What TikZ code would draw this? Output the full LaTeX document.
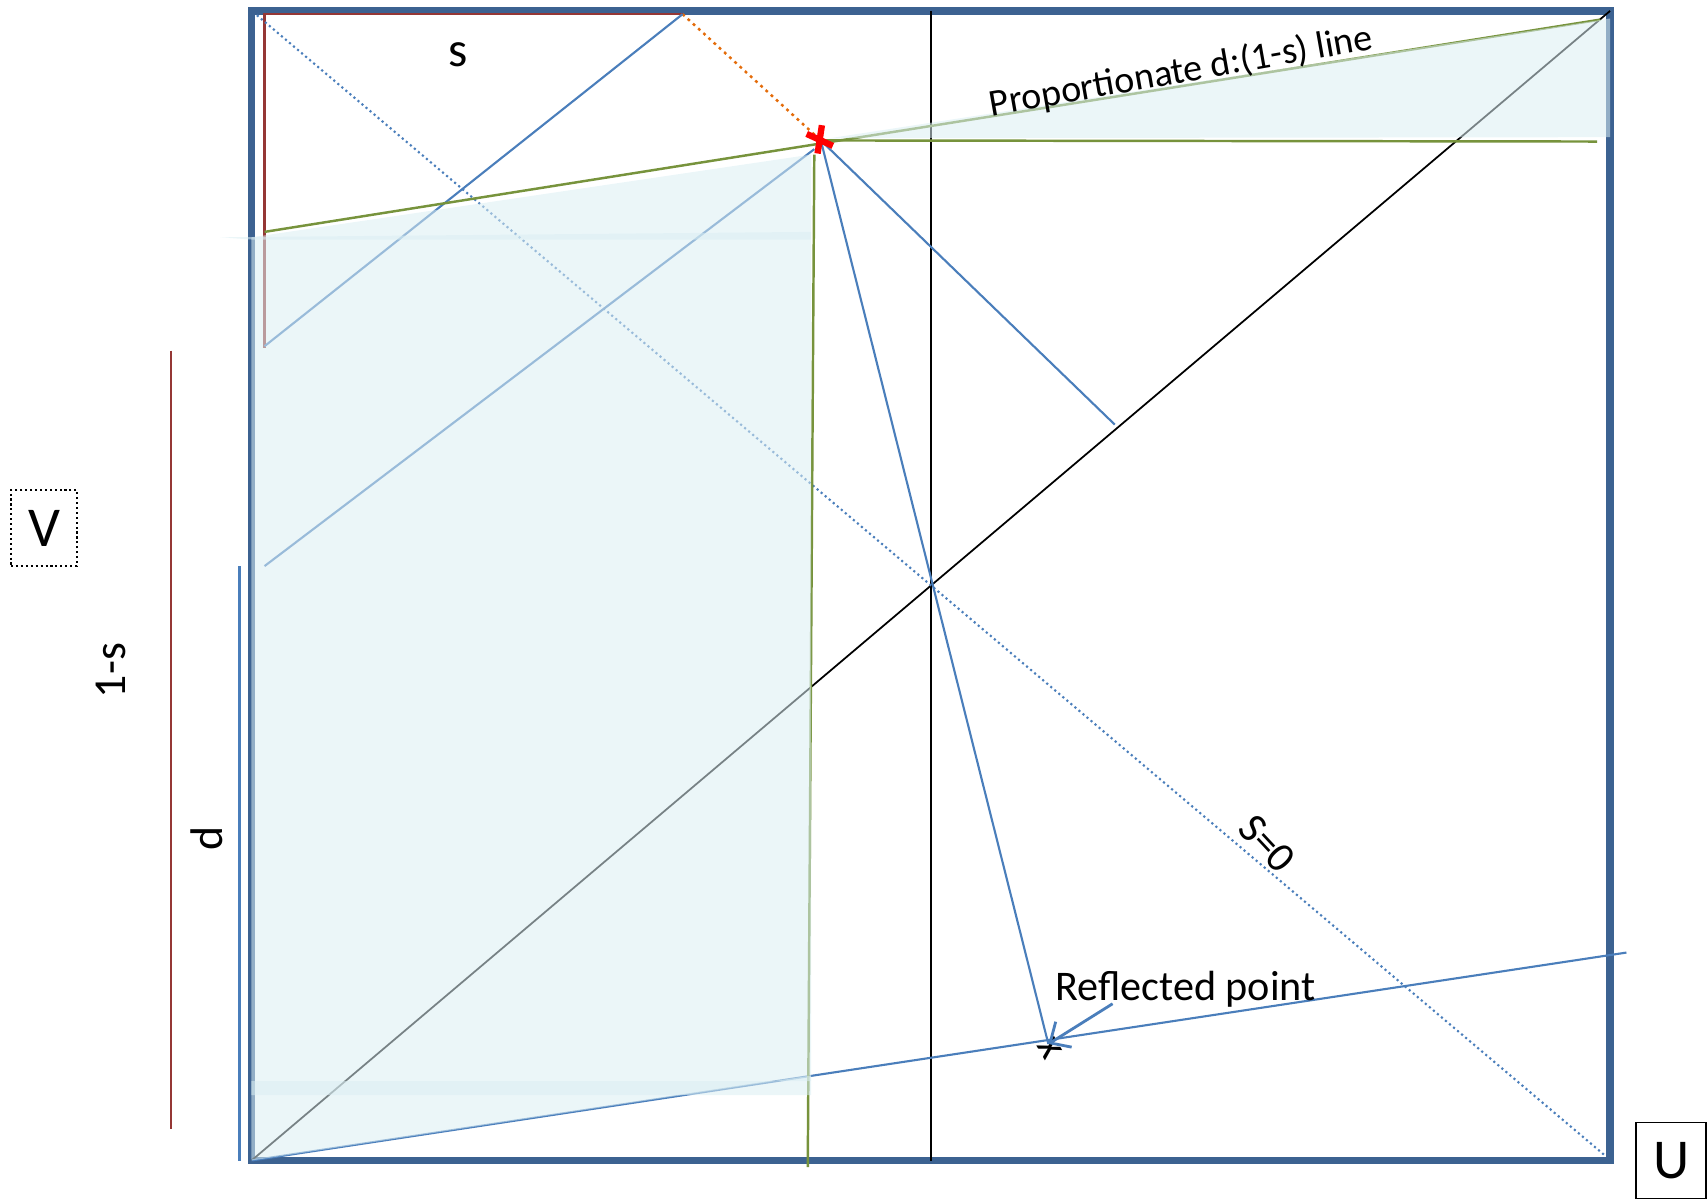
\documentclass[tikz,border=0pt]{standalone}
\usepackage{fontspec}
\setmainfont{Carlito}
\usetikzlibrary{arrows.meta}
\definecolor{framecol}{RGB}{60,98,145}
\definecolor{linecol}{RGB}{74,126,187}
\definecolor{greencol}{RGB}{119,147,60}
\definecolor{redcol}{RGB}{149,55,53}
\definecolor{orangecol}{RGB}{228,108,10}
\definecolor{tintcol}{RGB}{218,238,243}
\tikzset{
  frameline/.style={draw=framecol,line width=2.2pt},
  blueline/.style={draw=linecol,line width=0.6pt},
  greenline/.style={draw=greencol,line width=0.7pt},
  redline/.style={draw=redcol,line width=0.6pt},
  tint/.style={fill=tintcol,fill opacity=0.55,draw=none},
  txt/.style={font=\fontsize{12}{14}\selectfont,inner sep=0pt}
}
\begin{document}
\begin{tikzpicture}[x=0.010887cm,y=-0.010887cm]
  \useasboundingbox (0,0) rectangle (1568,1102);
  \coordinate (bl) at (231,1066);
  \coordinate (tr) at (1479,10);
  \coordinate (sa) at (236,14);
  \coordinate (sb) at (1475,1062);
  \coordinate (star) at (754,129);
  \coordinate (refl) at (963,959);
  \coordinate (rtop) at (627,13);
  \coordinate (rbot) at (243,320);
  \coordinate (arrowtail) at (1022,922);

  \draw[frameline] (bl) rectangle (tr);
  \draw[redline] (rtop) -- (243,13) -- (rbot);
  \draw[redline] (157,322) -- (157,1037);
  \draw[blueline] (220,520) -- (220,1066);
  \draw[black,line width=0.5pt] (855,10) -- (855,1066);
  \draw[black,line width=0.5pt] (bl) -- (tr);
  \draw[linecol,line width=0.6pt,dash pattern=on 0.6pt off 0.9pt] (sa) -- (sb);
  \draw[orangecol,line width=0.7pt,dash pattern=on 0.8pt off 1.2pt] (rtop) -- (star);
  \draw[blueline] (243,318) -- (rtop);
  \draw[blueline] (243,520) -- (748,137);
  \draw[blueline] (star) -- (1024,390);
  \draw[blueline] (star) -- (refl);
  \draw[blueline] (bl) -- (1494,875);
  \draw[greenline] (243,213) -- (1470,18);
  \draw[greenline] (star) -- (1467,130);
  \draw[greenline] (748,142) -- (742,1072);

  \fill[tint] (231,218) -- (745,142) -- (745,1006) -- (231,1006) -- cycle;
  \fill[tint] (231,993) -- (745,993) -- (745,988) -- (bl) -- cycle;
  \fill[tint] (202,218) -- (745,213) -- (745,220) -- (231,220) -- cycle;
  \fill[tint] (762,127) -- (1479,17) -- (1479,126) -- cycle;

  \draw[red,line width=1.8pt] (741,123) -- (765,134);
  \draw[red,line width=1.8pt] (755,115) -- (751,141);

  \node[txt,font=\fontsize{14}{16}\selectfont] (slab) at (421,50) {s};
  \node[txt,rotate=10,font=\fontsize{10.8}{13}\selectfont] (proplab) at (1085,66) {Proportionate d:(1-s) line};
  \node[txt] (refllab) at (1089,909) {Reflected point};
  \node[txt,rotate=-47] (szero) at (1164,775) {S=0};
  \node[txt,rotate=-60] (xmark) at (964,963) {x};
  \node[txt,rotate=90,font=\fontsize{13}{15}\selectfont] (oneslab) at (102,616) {1-s};
  \node[txt,rotate=90,font=\fontsize{13}{15}\selectfont] (dlab) at (190,770) {d};
  \node[draw,line width=0.6pt,dash pattern=on 0.6pt off 0.8pt,minimum width=0.66cm,
        minimum height=0.76cm,font=\fontsize{16}{18}\selectfont] (vbox) at (40.5,485) {V};
  \node[draw,line width=0.4pt,minimum width=0.70cm,minimum height=0.76cm,
        font=\fontsize{16}{18}\selectfont] (ubox) at (1535,1066) {U};
  \draw[linecol,line width=0.8pt,-{Straight Barb[length=1.6mm,width=3mm]}] (arrowtail) -- (refl);
\end{tikzpicture}
\end{document}
